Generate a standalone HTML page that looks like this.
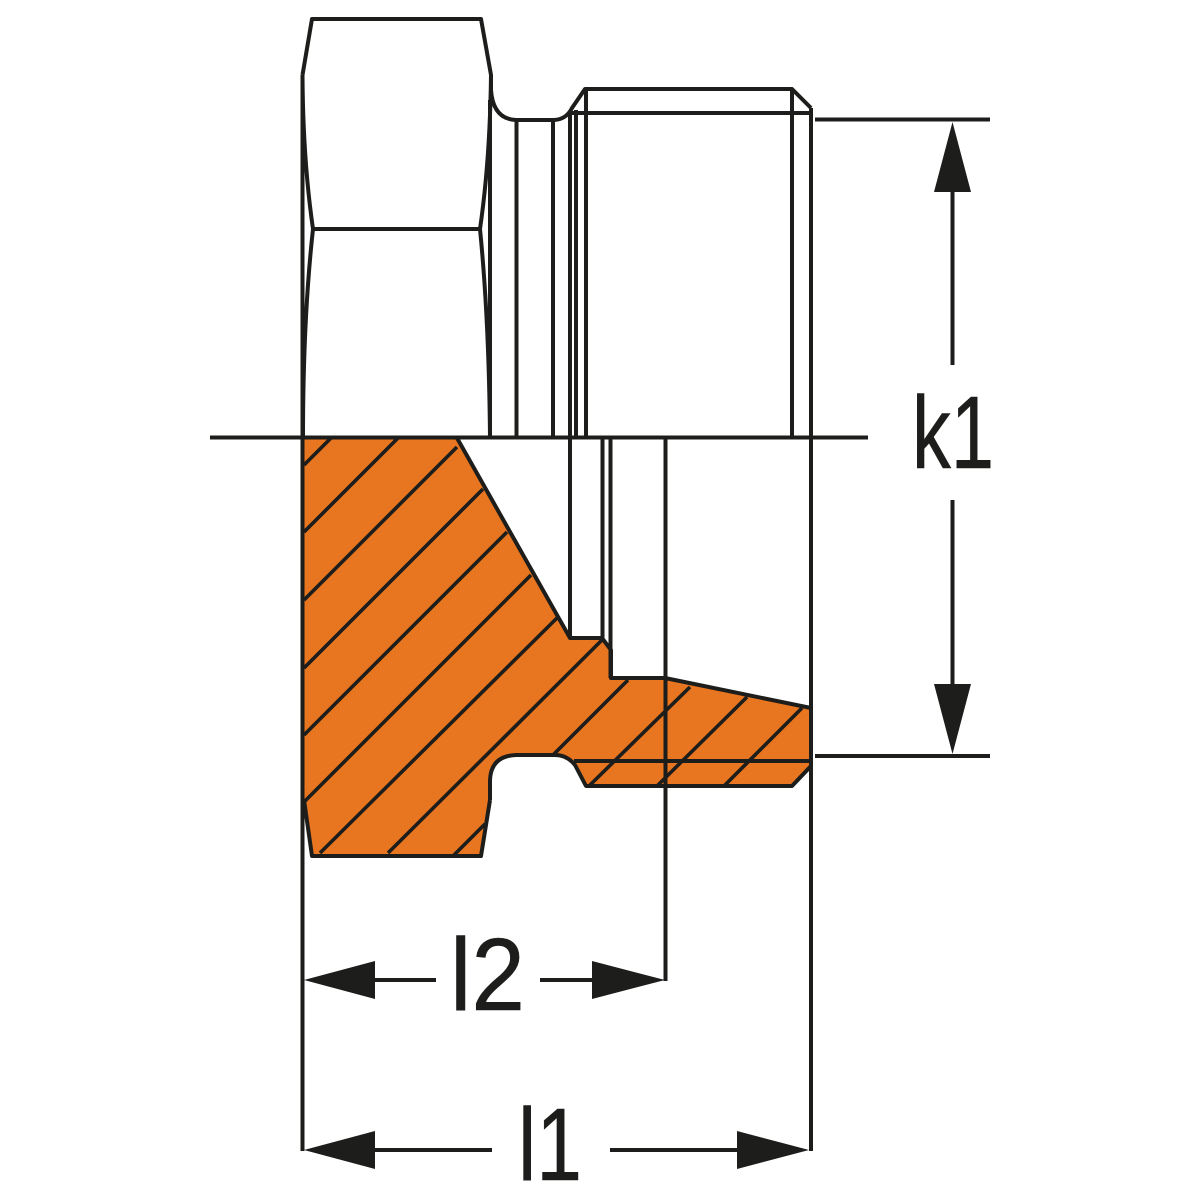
<!DOCTYPE html>
<html><head><meta charset="utf-8"><style>html,body{margin:0;padding:0;background:#fff}svg{display:block}text{font-family:"Liberation Sans",sans-serif;fill:#1d1d1b;stroke:#1d1d1b;stroke-width:.6;font-size:103px}</style></head><body>
<svg width="1200" height="1200" viewBox="0 0 1200 1200" xmlns="http://www.w3.org/2000/svg">
<rect width="1200" height="1200" fill="#fff"/>
<g fill="none" stroke="#1d1d1b" stroke-width="4" stroke-linejoin="round">
<!-- section -->
<path fill="#e8751f" stroke="none" d="M303.500 438H457L570 638L602 640L611 650V678H665L811 708V766L792 786H586L575 765Q567 755 555 755H516Q491 756 490 780V800L481 856H312L304 800Z"/>
<path d="M304 465L331 438M304 532L398 438M304 600L457 447M304 668L483 489M304 735L507 532M304 802L531 575M320 853L557 618M388 853L602 640M453 856L485 824M553 755L628 680M590 785L690 687M658 785L747 697M725 785L802 708" stroke-width="3.6"/>
<path d="M457 438L570 638H602L611 650V678H665L811 708M490 800L481 856H312L304 800M490 800V780Q491 756 516 755H555Q567 755 575 765L586 786H792L811 766"/>
<path d="M574 761H811"/>
<!-- upper outline -->
<path d="M302.500 75L312 19H481L491 75V90Q493 119 516 120H553Q566 120 572 108L585 89H792L811 108"/>
<path d="M302.500 75Q303 160 313 229H480Q490 160 491 75M313 229Q303 320 303 438M480 229Q489 320 490 438"/>
<path d="M490 100V438M516.500 120V438M553 120V438M570 112V638M576 110V438M586 89V438M792 89V438M570 113H811M602.500 438V640M610.500 438V678"/>
<!-- extension / dims -->
<path d="M302.500 75V1151M811 108V1151M665.500 438V981M210 437.500H868M815 119.500H990M815 756H990"/>
<path d="M952.500 190V365M952.500 500V686M374 980H436M540 980H594M374 1150H492M610 1150H738"/>
</g>
<g fill="#1d1d1b">
<path d="M952.500 122L971 192H934Z"/>
<path d="M952.500 754L971 684H934Z"/>
<path d="M304 980L375 961V999Z"/>
<path d="M665 980L592 961V999Z"/>
<path d="M304 1150L375 1131V1169Z"/>
<path d="M809 1150L737 1131V1169Z"/>
</g>
<text x="912" y="468" textLength="82" lengthAdjust="spacingAndGlyphs">k1</text>
<text x="450" y="1010" textLength="75" lengthAdjust="spacingAndGlyphs">l2</text>
<text x="518" y="1180" textLength="64" lengthAdjust="spacingAndGlyphs">l1</text>
</svg>
</body></html>
